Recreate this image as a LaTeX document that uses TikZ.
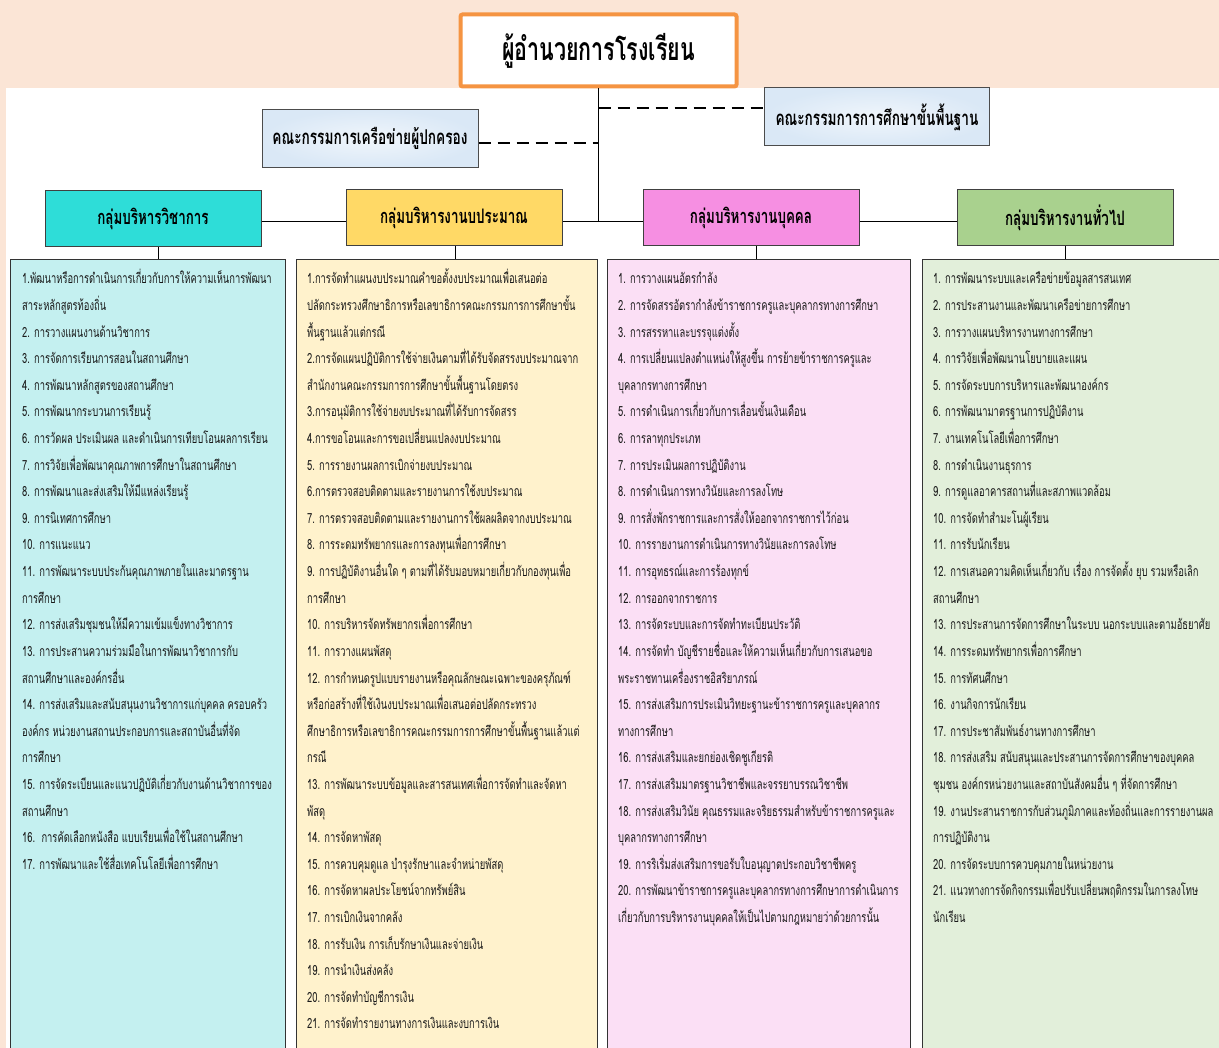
\documentclass[tikz,border=0pt]{standalone}
\usepackage{fontspec}
\newfontfamily\thaifont[Script=Thai,FakeStretch=0.67]{Loma}
\usetikzlibrary{positioning}

\definecolor{peach}{RGB}{251,229,214}
\definecolor{dirorange}{RGB}{245,148,66}
\definecolor{combg}{RGB}{218,232,246}
\definecolor{acadhead}{RGB}{46,221,216}
\definecolor{budhead}{RGB}{255,217,102}
\definecolor{perhead}{RGB}{246,143,226}
\definecolor{genhead}{RGB}{169,209,142}
\definecolor{acadbg}{RGB}{196,240,240}
\definecolor{budbg}{RGB}{255,242,204}
\definecolor{perbg}{RGB}{251,223,245}
\definecolor{genbg}{RGB}{226,239,218}

\begin{document}
\begin{tikzpicture}[x=1pt,y=-1pt,
    headbox/.style={draw=black!75,line width=1pt,minimum width=216pt,minimum height=56pt,
                    font=\thaifont\bfseries\fontsize{20}{24}\selectfont},%group titles
    combox/.style={draw=black!70,line width=1pt,inner color=white!60!combg,outer color=combg,minimum height=58pt,
                   font=\thaifont\bfseries\fontsize{20.4}{24}\selectfont},
    listbox/.style={draw=black!80,line width=1pt,anchor=north west,inner sep=0pt},
    item/.style={anchor=base west,inner sep=0pt,text=black!90,
                 font=\thaifont\fontsize{14}{16}\selectfont}
  ]
\useasboundingbox (0,0) rectangle (1219,1048);
\fill[peach] (0,0) rectangle (1219,88);
\fill[peach] (0,88) rectangle (6,1048);

% director and committees
\node[draw=dirorange,line width=4pt,fill=white,rounded corners=2pt,minimum width=276pt,minimum height=72pt,
      font=\thaifont\bfseries\fontsize{32}{36}\selectfont] (dir) at (598.5,50.5) {ผู้อำนวยการโรงเรียน};
\node[combox,minimum width=225pt] (basiced) at (877,117) {คณะกรรมการการศึกษาขั้นพื้นฐาน};
\node[combox,minimum width=216pt] (parents) at (370,138.5) {คณะกรรมการเครือข่ายผู้ปกครอง};

% four groups
\node[headbox,fill=acadhead] (acad) at (153,219) {กลุ่มบริหารวิชาการ};
\node[headbox,fill=budhead] (bud) at (454,218) {กลุ่มบริหารงานบประมาณ};
\node[headbox,fill=perhead] (per) at (751,218) {กลุ่มบริหารงานบุคคล};
\node[headbox,fill=genhead] (gen) at (1065,218) {กลุ่มบริหารงานทั่วไป};

\coordinate (bus) at (0,222);
\draw[line width=1pt] (dir.south) -- (dir.south |- bus);
\draw[line width=1pt] (acad.east |- bus) -- (bud.west |- bus)
                      (bud.east |- bus) -- (per.west |- bus)
                      (per.east |- bus) -- (gen.west |- bus);
\draw[dashed,line width=1.3pt,dash pattern=on 12pt off 7pt] (dir.south |- 0,108) -- (basiced.west |- 0,108);
\draw[dashed,line width=1.3pt,dash pattern=on 12pt off 7pt] (parents.east |- 0,143) -- (dir.south |- 0,143);

% task lists
\node[listbox,fill=acadbg,minimum width=275pt,minimum height=800pt] (acadlist) at (10,259) {};
\node[listbox,fill=budbg,minimum width=301pt,minimum height=800pt] (budlist) at (296,259) {};
\node[listbox,fill=perbg,minimum width=303pt,minimum height=800pt] (perlist) at (607,259) {};
\node[listbox,fill=genbg,minimum width=297pt,minimum height=800pt] (genlist) at (922,259) {};
\foreach \g/\dx in {acad/5,bud/1,per/5,gen/0}
  \draw[line width=1pt] ([xshift=\dx pt]\g.south) -- ([xshift=\dx pt]\g.south |- \g list.north);

\foreach \t [count=\i from 0] in {%
  {1.พัฒนาหรือการดำเนินการเกี่ยวกับการให้ความเห็นการพัฒนา},
  {สาระหลักสูตรท้องถิ่น},
  {2. การวางแผนงานด้านวิชาการ},
  {3. การจัดการเรียนการสอนในสถานศึกษา},
  {4. การพัฒนาหลักสูตรของสถานศึกษา},
  {5. การพัฒนากระบวนการเรียนรู้},
  {6. การวัดผล ประเมินผล และดำเนินการเทียบโอนผลการเรียน},
  {7. การวิจัยเพื่อพัฒนาคุณภาพการศึกษาในสถานศึกษา},
  {8. การพัฒนาและส่งเสริมให้มีแหล่งเรียนรู้},
  {9. การนิเทศการศึกษา},
  {10. การแนะแนว},
  {11. การพัฒนาระบบประกันคุณภาพภายในและมาตรฐาน},
  {การศึกษา},
  {12. การส่งเสริมชุมชนให้มีความเข้มแข็งทางวิชาการ},
  {13. การประสานความร่วมมือในการพัฒนาวิชาการกับ},
  {สถานศึกษาและองค์กรอื่น},
  {14. การส่งเสริมและสนับสนุนงานวิชาการแก่บุคคล ครอบครัว},
  {องค์กร หน่วยงานสถานประกอบการและสถาบันอื่นที่จัด},
  {การศึกษา},
  {15. การจัดระเบียนและแนวปฏิบัติเกี่ยวกับงานด้านวิชาการของ},
  {สถานศึกษา},
  {16.\ \ การคัดเลือกหนังสือ แบบเรียนเพื่อใช้ในสถานศึกษา},
  {17. การพัฒนาและใช้สื่อเทคโนโลยีเพื่อการศึกษา}}
  \node[item] (acad-\i) at (22,{284+26.6*\i}) {\t};

\foreach \t [count=\i from 0] in {%
  {1.การจัดทำแผนงบประมาณคำขอตั้งงบประมาณเพื่อเสนอต่อ},
  {ปลัดกระทรวงศึกษาธิการหรือเลขาธิการคณะกรรมการการศึกษาขั้น},
  {พื้นฐานแล้วแต่กรณี},
  {2.การจัดแผนปฏิบัติการใช้จ่ายเงินตามที่ได้รับจัดสรรงบประมาณจาก},
  {สำนักงานคณะกรรมการการศึกษาขั้นพื้นฐานโดยตรง},
  {3.การอนุมัติการใช้จ่ายงบประมาณที่ได้รับการจัดสรร},
  {4.การขอโอนและการขอเปลี่ยนแปลงงบประมาณ},
  {5. การรายงานผลการเบิกจ่ายงบประมาณ},
  {6.การตรวจสอบติดตามและรายงานการใช้งบประมาณ},
  {7. การตรวจสอบติดตามและรายงานการใช้ผลผลิตจากงบประมาณ},
  {8. การระดมทรัพยากรและการลงทุนเพื่อการศึกษา},
  {9. การปฏิบัติงานอื่นใด ๆ ตามที่ได้รับมอบหมายเกี่ยวกับกองทุนเพื่อ},
  {การศึกษา},
  {10. การบริหารจัดทรัพยากรเพื่อการศึกษา},
  {11. การวางแผนพัสดุ},
  {12. การกำหนดรูปแบบรายงานหรือคุณลักษณะเฉพาะของครุภัณฑ์},
  {หรือก่อสร้างที่ใช้เงินงบประมาณเพื่อเสนอต่อปลัดกระทรวง},
  {ศึกษาธิการหรือเลขาธิการคณะกรรมการการศึกษาขั้นพื้นฐานแล้วแต่},
  {กรณี},
  {13. การพัฒนาระบบข้อมูลและสารสนเทศเพื่อการจัดทำและจัดหา},
  {พัสดุ},
  {14. การจัดหาพัสดุ},
  {15. การควบคุมดูแล บำรุงรักษาและจำหน่ายพัสดุ},
  {16. การจัดหาผลประโยชน์จากทรัพย์สิน},
  {17. การเบิกเงินจากคลัง},
  {18. การรับเงิน การเก็บรักษาเงินและจ่ายเงิน},
  {19. การนำเงินส่งคลัง},
  {20. การจัดทำบัญชีการเงิน},
  {21. การจัดทำรายงานทางการเงินและงบการเงิน}}
  \node[item] (bud-\i) at (307,{284+26.6*\i}) {\t};

\foreach \t [count=\i from 0] in {%
  {1. การวางแผนอัตรกำลัง},
  {2. การจัดสรรอัตรากำลังข้าราชการครูและบุคลากรทางการศึกษา},
  {3. การสรรหาและบรรจุแต่งตั้ง},
  {4. การเปลี่ยนแปลงตำแหน่งให้สูงขึ้น การย้ายข้าราชการครูและ},
  {บุคลากรทางการศึกษา},
  {5. การดำเนินการเกี่ยวกับการเลื่อนขั้นเงินเดือน},
  {6. การลาทุกประเภท},
  {7. การประเมินผลการปฏิบัติงาน},
  {8. การดำเนินการทางวินัยและการลงโทษ},
  {9. การสั่งพักราชการและการสั่งให้ออกจากราชการไว้ก่อน},
  {10. การรายงานการดำเนินการทางวินัยและการลงโทษ},
  {11. การอุทธรณ์และการร้องทุกข์},
  {12. การออกจากราชการ},
  {13. การจัดระบบและการจัดทำทะเบียนประวัติ},
  {14. การจัดทำ บัญชีรายชื่อและให้ความเห็นเกี่ยวกับการเสนอขอ},
  {พระราชทานเครื่องราชอิสริยาภรณ์},
  {15. การส่งเสริมการประเมินวิทยะฐานะข้าราชการครูและบุคลากร},
  {ทางการศึกษา},
  {16. การส่งเสริมและยกย่องเชิดชูเกียรติ},
  {17. การส่งเสริมมาตรฐานวิชาชีพและจรรยาบรรณวิชาชีพ},
  {18. การส่งเสริมวินัย คุณธรรมและจริยธรรมสำหรับข้าราชการครูและ},
  {บุคลากรทางการศึกษา},
  {19. การริเริ่มส่งเสริมการขอรับใบอนุญาตประกอบวิชาชีพครู},
  {20. การพัฒนาข้าราชการครูและบุคลากรทางการศึกษาการดำเนินการ},
  {เกี่ยวกับการบริหารงานบุคคลให้เป็นไปตามกฎหมายว่าด้วยการนั้น}}
  \node[item] (per-\i) at (618,{284+26.6*\i}) {\t};

\foreach \t [count=\i from 0] in {%
  {1. การพัฒนาระบบและเครือข่ายข้อมูลสารสนเทศ},
  {2. การประสานงานและพัฒนาเครือข่ายการศึกษา},
  {3. การวางแผนบริหารงานทางการศึกษา},
  {4. การวิจัยเพื่อพัฒนานโยบายและแผน},
  {5. การจัดระบบการบริหารและพัฒนาองค์กร},
  {6. การพัฒนามาตรฐานการปฏิบัติงาน},
  {7. งานเทคโนโลยีเพื่อการศึกษา},
  {8. การดำเนินงานธุรการ},
  {9. การดูแลอาคารสถานที่และสภาพแวดล้อม},
  {10. การจัดทำสำมะโนผู้เรียน},
  {11. การรับนักเรียน},
  {12. การเสนอความคิดเห็นเกี่ยวกับ เรื่อง การจัดตั้ง ยุบ รวมหรือเลิก},
  {สถานศึกษา},
  {13. การประสานการจัดการศึกษาในระบบ นอกระบบและตามอัธยาศัย},
  {14. การระดมทรัพยากรเพื่อการศึกษา},
  {15. การทัศนศึกษา},
  {16. งานกิจการนักเรียน},
  {17. การประชาสัมพันธ์งานทางการศึกษา},
  {18. การส่งเสริม สนับสนุนและประสานการจัดการศึกษาของบุคคล},
  {ชุมชน องค์กรหน่วยงานและสถาบันสังคมอื่น ๆ ที่จัดการศึกษา},
  {19. งานประสานราชการกับส่วนภูมิภาคและท้องถิ่นและการรายงานผล},
  {การปฏิบัติงาน},
  {20. การจัดระบบการควบคุมภายในหน่วยงาน},
  {21. แนวทางการจัดกิจกรรมเพื่อปรับเปลี่ยนพฤติกรรมในการลงโทษ},
  {นักเรียน}}
  \node[item] (gen-\i) at (933,{284+26.6*\i}) {\t};
\end{tikzpicture}
\end{document}
